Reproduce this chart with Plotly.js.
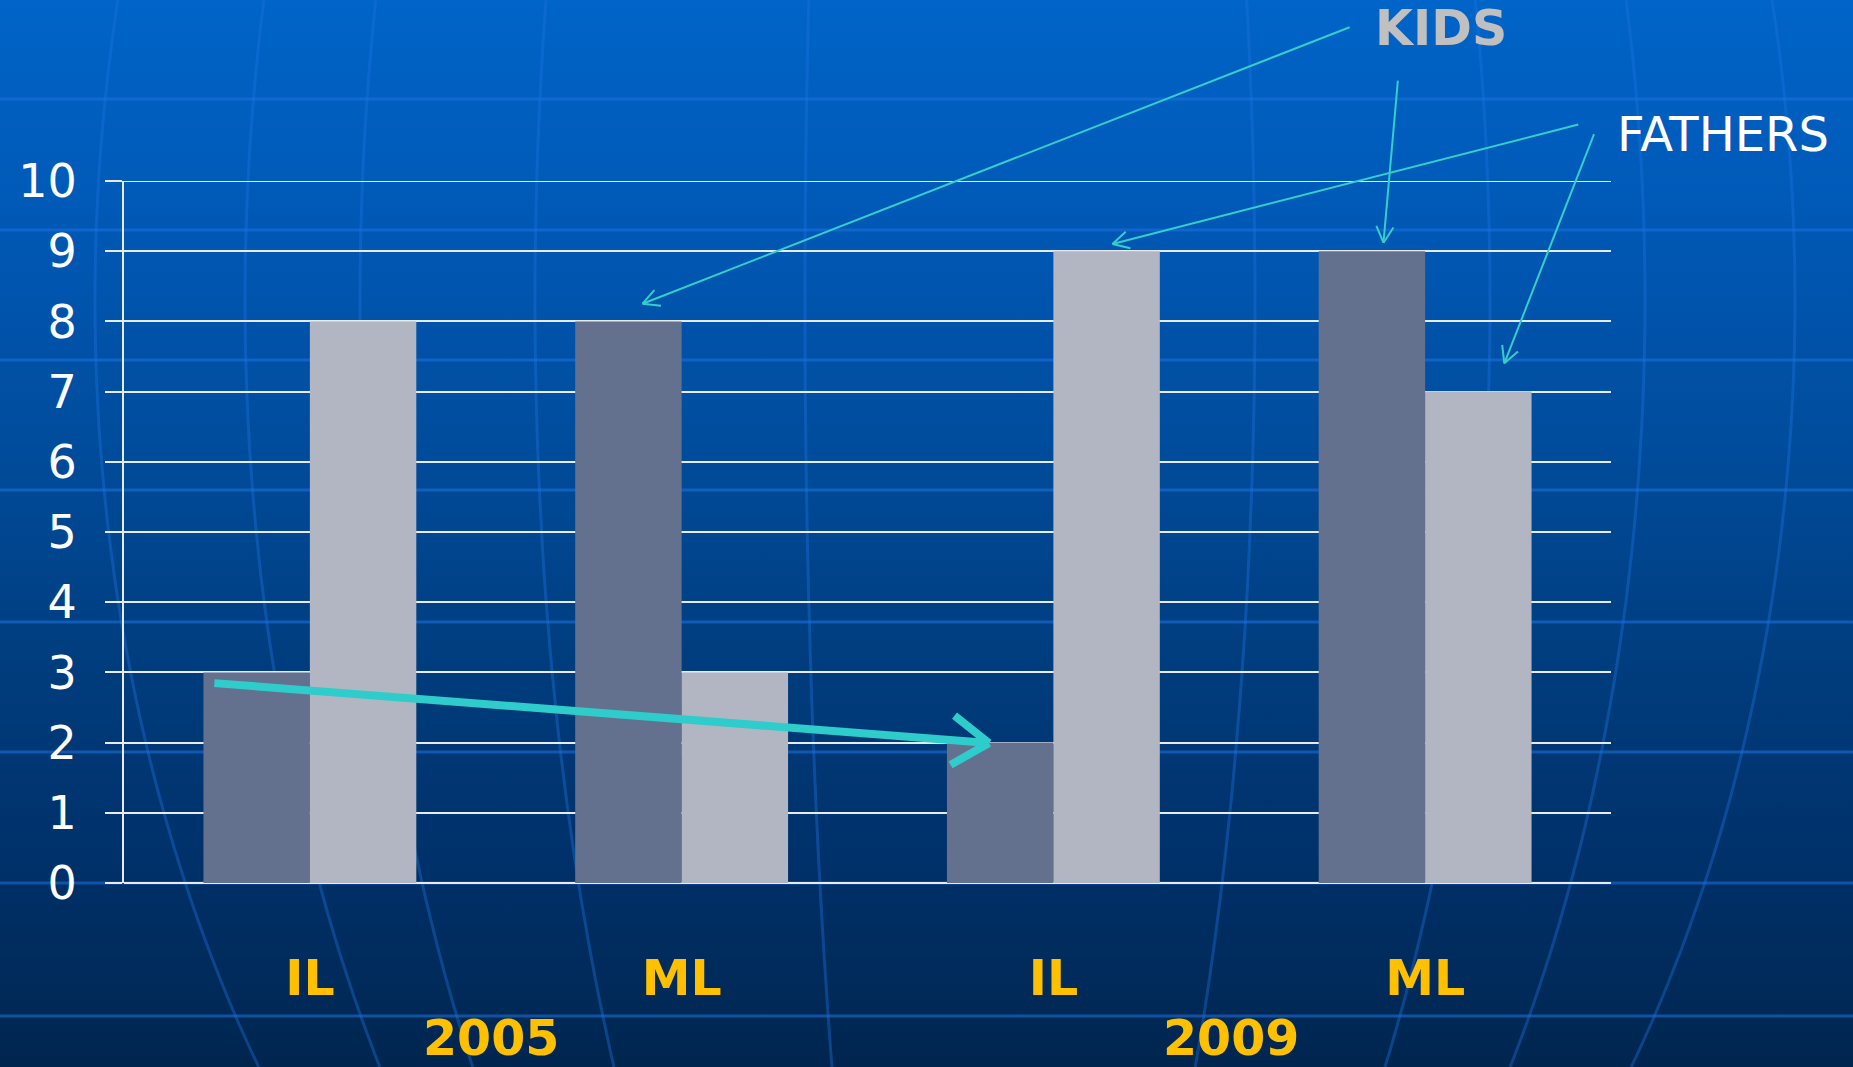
<!DOCTYPE html>
<html><head><meta charset="utf-8">
<script src="https://cdn.plot.ly/plotly-3.0.1.min.js"></script>
<style>
html,body{margin:0;padding:0;width:1853px;height:1067px;overflow:hidden;
background:linear-gradient(to bottom,#0064c8 0%,#0059b6 20%,#004c9c 42%,#003d7e 62%,#003068 82%,#00264f 100%);}
#chart{width:1853px;height:1067px;}
</style></head><body><div id="chart"></div>
<script>
// ---- data ----
const categories = ['IL', 'ML', 'IL', 'ML'];
const yearLabels = ['2005', '2009'];
const kids = [3, 8, 2, 9];
const fathers = [8, 3, 9, 7];
const yTicks = [0, 1, 2, 3, 4, 5, 6, 7, 8, 9, 10];

// ---- layout geometry ----
const W = 1853, H = 1067;
const M = {l: 124, r: 242, t: 181, b: 184};
const PW = W - M.l - M.r, PH = H - M.t - M.b;
const xr = [-0.5, 3.5], yr = [0, 10];
const xpx = v => M.l + (v - xr[0]) / (xr[1] - xr[0]) * PW;
const ypx = v => M.t + PH - (v - yr[0]) / (yr[1] - yr[0]) * PH;
const toPaper = (px, py) => [(px - M.l) / PW, (M.t + PH - py) / PH];

const xIdx = categories.map((c, i) => i);

const traces = [
  {type: 'bar', name: 'KIDS', x: xIdx, y: kids, marker: {color: '#63718f', line: {width: 0}}, hoverinfo: 'skip'},
  {type: 'bar', name: 'FATHERS', x: xIdx, y: fathers, marker: {color: '#b2b6c3', line: {width: 0}}, hoverinfo: 'skip'}
];

// ---- decorative globe lines (background) ----
const shapes = [];
const latY = [99, 230, 360, 490, 622, 752, 883, 1016];
latY.forEach(py => {
  const a = toPaper(0, py), b = toPaper(W, py);
  shapes.push({type: 'line', xref: 'paper', yref: 'paper', x0: a[0], y0: a[1], x1: b[0], y1: b[1],
    line: {color: 'rgba(30,115,225,0.55)', width: 3}, layer: 'below'});
});
const cx = 945, cy = 300, Ry = 1300;
const merid = [-850, -700, -585, -410, -140, 310, 545, 700, 850];
merid.forEach(k => {
  let d = '';
  const ys = [];
  for (let py = 0; py < H; py += 25) ys.push(py);
  ys.push(H);
  ys.forEach(py => {
    const w = Math.sqrt(1 - Math.pow((py - cy) / Ry, 2));
    const p = toPaper(cx + k * w, py);
    d += (d ? ' L ' : 'M ') + p[0].toFixed(4) + ',' + p[1].toFixed(4);
  });
  shapes.push({type: 'path', xref: 'paper', yref: 'paper', path: d,
    line: {color: 'rgba(30,115,225,0.38)', width: 3}, layer: 'below'});
});
// top gridline at the axis maximum (Plotly skips the grid line on the plot edge)
shapes.push({type: 'line', xref: 'paper', yref: 'y', x0: 0, x1: 1, y0: yr[1], y1: yr[1],
  line: {color: '#e9ebf2', width: 2}, layer: 'below'});

// ---- arrows ----
const annotations = [];
function arrow(tail, tip, color, width, armLen, armDeg) {
  annotations.push({x: tip[0], y: tip[1], xref: 'x', yref: 'y', ax: tail[0], ay: tail[1],
    axref: 'x', ayref: 'y', text: '', showarrow: true, arrowhead: 0, arrowwidth: width,
    arrowcolor: color, standoff: 0, startstandoff: 0});
  const tx = xpx(tip[0]), ty = ypx(tip[1]);
  const bx = xpx(tail[0]) - tx, by = ypx(tail[1]) - ty;
  const n = Math.hypot(bx, by), ux = bx / n, uy = by / n;
  [1, -1].forEach(s => {
    const t = s * armDeg * Math.PI / 180;
    const rx = ux * Math.cos(t) - uy * Math.sin(t), ry = ux * Math.sin(t) + uy * Math.cos(t);
    annotations.push({x: tip[0], y: tip[1], xref: 'x', yref: 'y', ax: rx * armLen, ay: ry * armLen,
      text: '', showarrow: true, arrowhead: 0, arrowwidth: width, arrowcolor: color, standoff: 0});
  });
}
const cyanThin = '#34cfcb';
arrow([2.801, 12.198], [0.895, 8.252], cyanThin, 2, 20, 28);
arrow([2.927, 11.45], [2.888, 9.121], cyanThin, 2, 20, 28);
arrow([3.416, 10.81], [2.159, 9.103], cyanThin, 2, 20, 28);
arrow([3.456, 10.69], [3.213, 7.403], cyanThin, 2, 20, 28);
arrow([-0.261, 2.849], [1.827, 1.994], '#2ecdcb', 8, 46, 34);

// ---- labels ----
const kp = toPaper(1441, 28), fp = toPaper(1723, 134);
annotations.push({xref: 'paper', yref: 'paper', x: kp[0], y: kp[1], text: 'KIDS', showarrow: false,
  xanchor: 'center', yanchor: 'middle', font: {family: 'DejaVu Sans', size: 49, weight: 'bold', color: '#c0c0c0'}});
annotations.push({xref: 'paper', yref: 'paper', x: fp[0], y: fp[1], text: 'FATHERS', showarrow: false,
  xanchor: 'center', yanchor: 'middle', font: {family: 'DejaVu Sans', size: 48, color: '#ffffff'}});
const yy = toPaper(0, 1038)[1];
const yearShift = [-5, -8];
yearLabels.forEach((t, i) => {
  annotations.push({xref: 'x', yref: 'paper', x: i * 2 + 0.5, y: yy, xshift: yearShift[i], text: t, showarrow: false,
    xanchor: 'center', yanchor: 'middle', font: {family: 'DejaVu Sans', size: 49, weight: 'bold', color: '#ffc000'}});
});

const layout = {
  width: W, height: H, autosize: false,
  margin: M,
  paper_bgcolor: 'rgba(0,0,0,0)', plot_bgcolor: 'rgba(0,0,0,0)',
  showlegend: false,
  barmode: 'group', bargap: 0.4274, bargroupgap: 0,
  xaxis: {range: xr, tickmode: 'array', tickvals: xIdx, ticktext: categories,
    showgrid: false, zeroline: false, showline: false, ticks: '',
    ticklabelstandoff: 62,
    tickfont: {family: 'DejaVu Sans', size: 49, weight: 'bold', color: '#ffc000'}, fixedrange: true},
  yaxis: {range: yr, tickmode: 'array', tickvals: yTicks, ticktext: yTicks.map(String),
    showgrid: true, gridcolor: '#e9ebf2', gridwidth: 2,
    zeroline: true, zerolinecolor: '#e9ebf2', zerolinewidth: 2,
    showline: true, linecolor: '#e9ebf2', linewidth: 2,
    ticks: 'outside', ticklen: 17, tickwidth: 2, tickcolor: '#e9ebf2',
    ticklabelstandoff: 19,
    tickfont: {family: 'DejaVu Sans', size: 46, color: '#ffffff'}, fixedrange: true},
  shapes: shapes,
  annotations: annotations
};
Plotly.newPlot('chart', traces, layout, {displayModeBar: false, staticPlot: true});
</script></body></html>
